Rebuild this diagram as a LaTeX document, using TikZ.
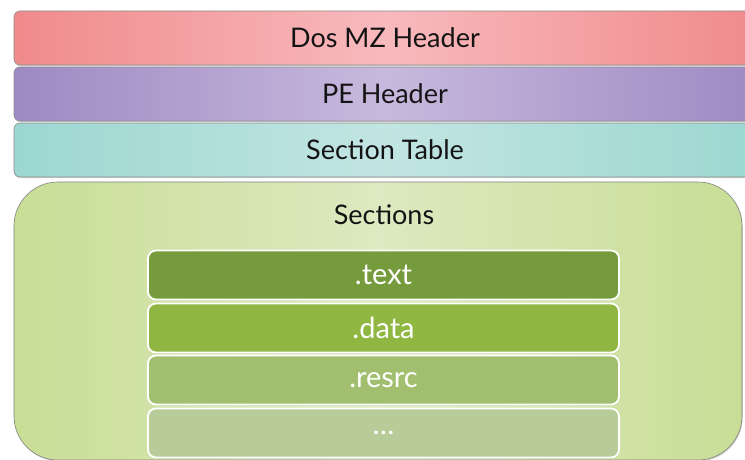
\documentclass[tikz,border=0pt]{standalone}
\usepackage{fontspec}
\setmainfont{Lato}
\usetikzlibrary{shadows}
\definecolor{mzedge}{RGB}{240,138,139}
\definecolor{mzmid}{RGB}{248,186,189}
\definecolor{peedge}{RGB}{158,138,195}
\definecolor{pemid}{RGB}{199,185,221}
\definecolor{stedge}{RGB}{156,215,209}
\definecolor{stmid}{RGB}{194,229,226}
\definecolor{secedge}{RGB}{200,222,150}
\definecolor{secmid}{RGB}{221,233,192}
\definecolor{textfill}{RGB}{117,155,60}
\definecolor{datafill}{RGB}{144,183,66}
\definecolor{resrcfill}{RGB}{162,191,111}
\definecolor{morefill}{RGB}{184,204,154}
\tikzset{
  hdr/.style={draw=black!45, line width=0.6pt, rounded corners=6pt,
      minimum width=743pt, minimum height=54pt, inner sep=0pt,
      drop shadow={shadow xshift=0.6pt, shadow yshift=-1.2pt, opacity=0.35}},
  hdrtext/.style={font=\fontsize{27}{30}\selectfont, text=black!92},
  secbox/.style={draw=white, line width=1.8pt, rounded corners=8pt,
      minimum width=471pt, minimum height=49pt, inner sep=0pt,
      text=white, font=\fontsize{29}{32}\selectfont,
      drop shadow={shadow xshift=0.4pt, shadow yshift=-0.8pt, opacity=0.3}},
}

\begin{document}
\begin{tikzpicture}[x=1pt, y=-1pt]
  \useasboundingbox (0,0) rectangle (745,460);
  \clip (0,0) rectangle (745,460);
  % header blocks
  \node[hdr, left color=mzedge, right color=mzedge, middle color=mzmid] (dosmz) at (385.5,38) {};
  \node[hdrtext] (dosmzlbl) at (385,38) {Dos MZ Header};
  \node[hdr, left color=peedge, right color=peedge, middle color=pemid] (pehdr) at (385.5,94) {};
  \node[hdrtext] (pehdrlbl) at (385,94) {PE Header};
  \node[hdr, left color=stedge, right color=stedge, middle color=stmid] (sectab) at (385.5,150) {};
  \node[hdrtext] (sectablbl) at (385,150) {Section Table};
  % sections container
  \node[draw=black!50, line width=0.6pt, rounded corners=44pt,
    left color=secedge, right color=secedge, middle color=secmid,
    minimum width=728pt, minimum height=278pt, inner sep=0pt,
    drop shadow={shadow xshift=0.8pt, shadow yshift=-1.2pt, opacity=0.35}]
    (sections) at (378,321) {};
  \node[hdrtext] (sectlbl) at (384,215) {Sections};
  % section entries
  \node[secbox, fill=textfill] (text) at (383.5,275) {.text};
  \node[secbox, fill=datafill] (data) at (383.5,328) {.data};
  \node[secbox, fill=resrcfill] (resrc) at (383.5,380) {.resrc};
  \node[secbox, fill=morefill] (more) at (383.5,433) {\dots};
\end{tikzpicture}
\end{document}
